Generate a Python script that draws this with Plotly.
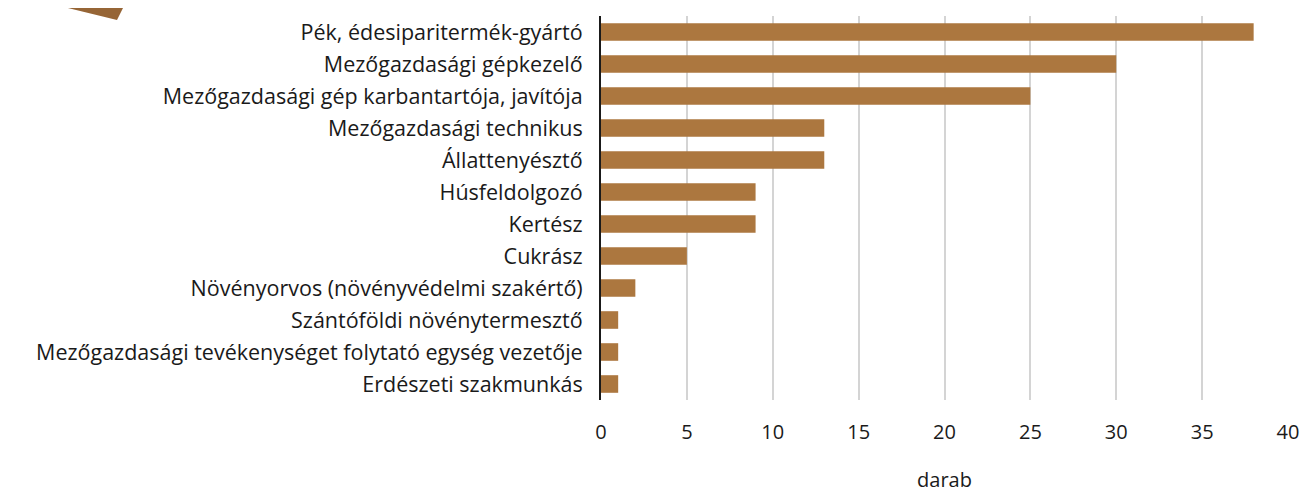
import plotly.graph_objects as go

categories = [
    "Pék, édesiparitermék-gyártó",
    "Mezőgazdasági gépkezelő",
    "Mezőgazdasági gép karbantartója, javítója",
    "Mezőgazdasági technikus",
    "Állattenyésztő",
    "Húsfeldolgozó",
    "Kertész",
    "Cukrász",
    "Növényorvos (növényvédelmi szakértő)",
    "Szántóföldi növénytermesztő",
    "Mezőgazdasági tevékenységet folytató egység vezetője",
    "Erdészeti szakmunkás",
]
values = [38, 30, 25, 13, 13, 9, 9, 5, 2, 1, 1, 1]
x_ticks = [0, 5, 10, 15, 20, 25, 30, 35, 40]
x_title = "darab"

# page body has an 8px margin; compensate so the plot lands where it should
OFF = 8
W, H = 1309 - OFF, 493 - OFF
ml, mr, mt, mb = 601 - OFF, 21, 16 - OFF, 93

pw, ph = W - ml - mr, H - mt - mb

def px(x):
    return (x - OFF - ml) / pw

def py(y):
    return 1 - (y - OFF - mt) / ph

font = "Open Sans"

fig = go.Figure(go.Bar(
    x=values, y=categories, orientation="h",
    marker=dict(color="#AC773F", line=dict(width=0)),
    width=0.55,
))

tri = [(27, -2), (128, -2), (117, 20)]
path = "M " + " L ".join(f"{px(a)},{py(b)}" for a, b in tri) + " Z"

fig.update_layout(
    width=W, height=H,
    margin=dict(l=ml, r=mr, t=mt, b=mb, autoexpand=False),
    plot_bgcolor="white", paper_bgcolor="white",
    font=dict(family=font, size=21, color="#1a1a1a"),
    showlegend=False,
    xaxis=dict(
        range=[0, 40], tickvals=x_ticks, ticktext=[str(t) for t in x_ticks],
        showgrid=True, gridcolor="#d4d4d4", gridwidth=1.5,
        zeroline=False, showline=False, ticks="",
        tickfont=dict(size=20), ticklabelstandoff=18,
        title=dict(text=x_title, font=dict(size=20), standoff=40),
        automargin=False,
    ),
    yaxis=dict(
        categoryorder="array", categoryarray=categories[::-1],
        showline=True, linecolor="#1a1a1a", linewidth=2,
        showgrid=False, ticks="", ticklabelstandoff=12,
        tickfont=dict(size=21.5),
        range=[-0.5, len(categories) - 0.5],
        automargin=False,
    ),
    shapes=[dict(type="path", xref="paper", yref="paper", path=path,
                 fillcolor="#966536", line=dict(width=0), layer="above")],
)

fig.write_html("out.html")
